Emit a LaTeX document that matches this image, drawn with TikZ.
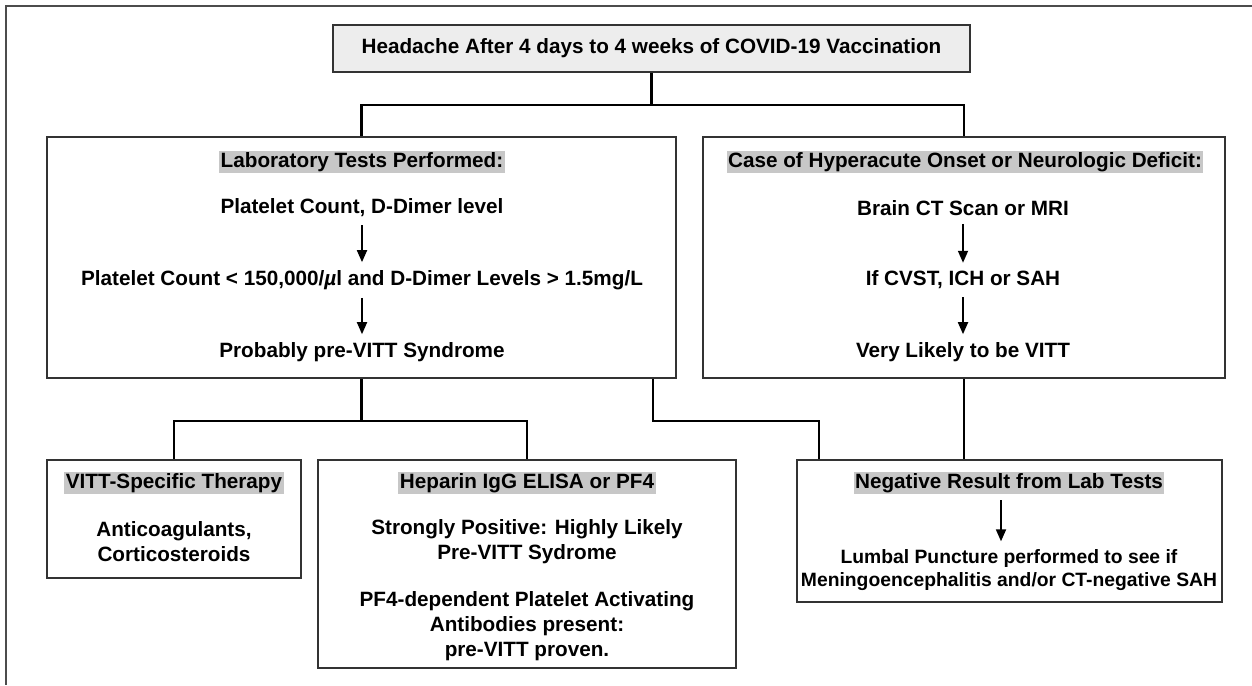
\documentclass[tikz,border=0pt]{standalone}
\usepackage{fontspec}
\setmainfont{Liberation Sans}
\usetikzlibrary{arrows.meta}

\begin{document}
\begin{tikzpicture}[x=1pt, y=-1pt, line width=2.3pt,
  box/.style={draw=black!80, fill=white, inner sep=0pt},
  txt/.style={font=\fontsize{20.7}{25}\selectfont\bfseries, inner sep=2pt, align=center},
  small/.style={txt, font=\fontsize{19.3}{23}\selectfont\bfseries},
  headline/.style={txt, fill=black!22, inner sep=1.5pt},
  arr/.style={-{Triangle[length=12pt, width=10pt]}, line width=1.8pt,
    shorten <=5pt, shorten >=5pt}]
  \useasboundingbox (0,0) rectangle (1252,685);
  % frame, top and left only
  \draw[black!70, line width=1.2pt] (1252,6) -- (6,6) -- (6,685);
  % boxes
  \node[box, txt, fill=black!7, minimum width=637pt, minimum height=47pt] (head) at (651.5,48.5)
    {Headache After 4 days to 4 weeks of COVID-19 Vaccination};
  \node[box, minimum width=629pt, minimum height=241pt] (lab) at (361.5,257.5) {};
  \node[box, minimum width=522pt, minimum height=241pt] (case) at (964,257.5) {};
  \node[box, minimum width=254pt, minimum height=118pt] (ther) at (174,519) {};
  \node[box, minimum width=418pt, minimum height=208pt] (elisa) at (527,564) {};
  \node[box, minimum width=425pt, minimum height=142pt] (neg) at (1009.5,531) {};
  % connectors
  \draw (head.south) -- ++(0,32) coordinate (j1);
  \draw (lab.north) |- (j1) -| (case.north);
  \draw (lab.south) -- ++(0,42) coordinate (j2);
  \draw (ther.north) |- (j2) -| (elisa.north);
  \draw ([xshift=291.5pt]lab.south) -- ++(0,42) -| ([xshift=23pt]neg.north west);
  \draw (case.south) -- (neg.north -| case.south);
  % laboratory tests
  \node[headline] (labh) at (362,162) {Laboratory Tests Performed:};
  \node[txt] (labpc) at (362,208) {Platelet Count, D-Dimer level};
  \node[txt] (lablim) at (362,280) {Platelet Count < 150,000/\textit{µ}l and D-Dimer Levels > 1.5mg/L};
  \node[txt] (labpro) at (362,352) {Probably pre-VITT Syndrome};
  \draw[arr] (labpc) -- (lablim);
  \draw[arr] (lablim) -- (labpro);
  % hyperacute onset
  \node[headline] (caseh) at (965,162) {Case of Hyperacute Onset or Neurologic Deficit:};
  \node[txt] (casect) at (963,208) {Brain CT Scan or MRI};
  \node[txt] (caseif) at (963,280) {If CVST, ICH or SAH};
  \node[txt] (casevl) at (963,352) {Very Likely to be VITT};
  \draw[arr] (casect) -- (caseif);
  \draw[arr] (caseif) -- (casevl);
  % therapy
  \node[headline] (therh) at (174,483) {VITT-Specific Therapy};
  \node[txt] (therb) at (174,542) {Anticoagulants,\\Corticosteroids};
  % elisa
  \node[headline] (elisah) at (527,483) {Heparin IgG ELISA or PF4};
  \node[txt] (elisap) at (527,542) {Strongly Positive: Highly Likely\\Pre-VITT Sydrome};
  \node[txt] (elisaa) at (527,626) {PF4-dependent Platelet Activating\\Antibodies present:\\pre-VITT proven.};
  % negative result
  \node[headline] (negh) at (1009,483) {Negative Result from Lab Tests};
  \node[small] (negb) at (1009,570) {Lumbal Puncture performed to see if\\Meningoencephalitis and/or CT-negative SAH};
  \draw[arr] ([xshift=-8pt]negh.south) -- ([xshift=-8pt]negb.north);
\end{tikzpicture}
\end{document}
